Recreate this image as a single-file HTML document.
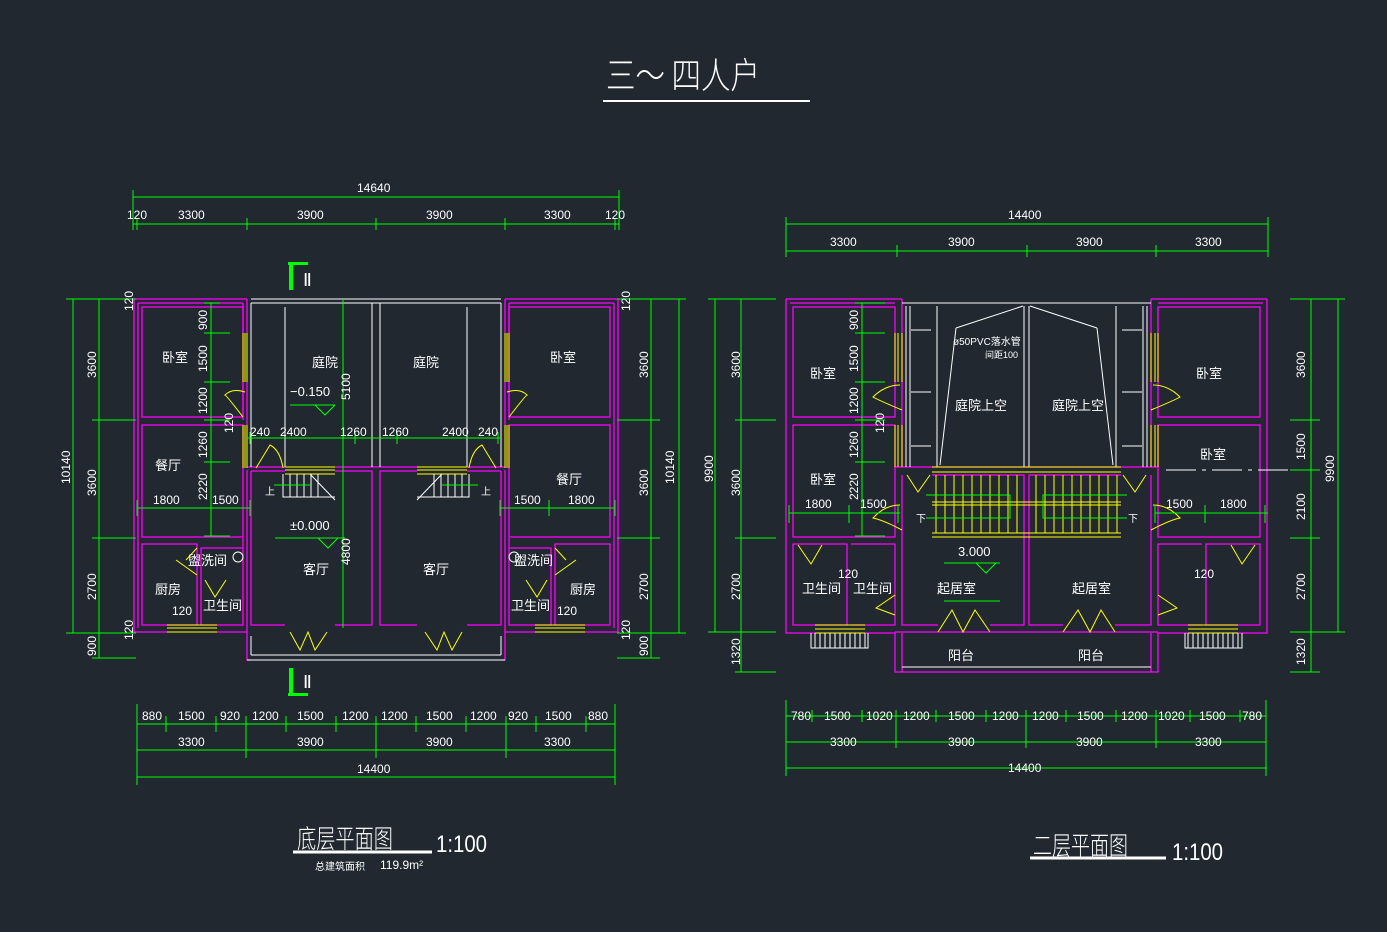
<!DOCTYPE html>
<html><head><meta charset="utf-8"><style>
html,body{margin:0;padding:0;background:#212830;}
svg{display:block}
text{font-family:"Liberation Sans","Noto Sans CJK SC",sans-serif;fill:#fff}
.g{stroke:#0f0;stroke-width:1;fill:none}
.m{stroke:#f0f;stroke-width:1.3;fill:none}
.w{stroke:#fff;stroke-width:1;fill:none}
.y{stroke:#ff0;stroke-width:1;fill:none}
.d{font-size:12px}
.c{font-size:13px}
</style></head><body>
<svg width="1387" height="932" viewBox="0 0 1387 932" xmlns="http://www.w3.org/2000/svg">
<rect width="1387" height="932" fill="#212830"/>
<!-- title -->
<text x="606" y="88" textLength="154" lengthAdjust="spacingAndGlyphs" style="font-size:36px;font-family:'Noto Sans CJK SC',sans-serif;font-weight:200" fill="#fff">三～ 四人户</text>
<line x1="603" y1="101" x2="810" y2="101" stroke="#fff" stroke-width="2"/>

<defs>
<g id="LH">
 <path class="m" d="M134,299 H247 M134,299 V632 H167 M217,632 H247 V660 H251 M138,303 H243 M138,303 V628 M243,303 V333 M243,382 V420 M247,299 V333 M247,382 V425"/>
 <rect class="m" x="142" y="307" width="101" height="110"/>
 <rect class="m" x="142" y="425" width="101" height="112"/>
 <path class="m" d="M142,544 H197 V625 H142 Z M201,548 V625 H243 V548 Z M243,538 V560 M243,578 V625 M247,470 V632 M251,471 V625 H285 M335,625 H372 V471 H335 M251,471 H285"/>
 <path class="m" d="M247,467 H285 M335,467 H376"/>
 <path class="w" d="M251,299 H376 M251,303 H376 M251,303 V467 M285,307 V467 M372,303 V467 M247,660 H376 M251,655 H376 M251,636 V655"/>
 <path class="y" d="M243,333 V382 M245,333 V382 M247,333 V382 M243,425 V468 M245,425 V468 M247,425 V468 M167,625 H217 M167,628 H217 M167,632 H217 M285,467 H335 M285,470 H335 M285,474 H335"/>
 <path class="y" d="M243,417 Q226,395 225,395 Q232,388 245,392 M256,468 L270,445 Q280,450 283,468 M186,560 L197,548 M176,560 Q190,570 197,575 M205,580 L215,597 L226,580 M290,632 L300,650 L308,632 L315,650 L327,632"/>
 <path class="w" d="M283,474 V497 H335 M290,474 V497 M297,474 V497 M304,474 V497 M311,474 V497 M318,474 V497 M310,474 L335,500"/>
 <line class="g" x1="274" y1="485" x2="310" y2="485"/>
 <circle cx="238" cy="557" r="5" class="w" stroke-width="2"/>
</g>
<g id="RH">
 <path class="m" d="M786,299 H902 M786,299 V633 H815 M865,633 H895 V672 H902 V633 M790,303 H895"/>
 <rect class="m" x="793" y="307" width="102" height="110"/>
 <rect class="m" x="793" y="425" width="102" height="112"/>
 <path class="m" d="M793,544 H847 V625 H793 Z M851,544 H895 V625 H851 M902,299 V467 M902,475 V625 H938 M990,625 H1024 V475 H932 M895,467 H1027 M895,632 H1027 M902,672 H1027"/>
 <path class="w" d="M906,306 V467 M910,306 V467 M937,306 V467 M1024,306 V467 M902,303 H1027 M956,328 L1023,306 M956,328 L940,465 M911,330 H931 M911,392 H931 M911,446 H931 M902,667 H1027"/>
 <path class="y" d="M895,333 V382 M898,333 V382 M902,333 V382 M895,425 V467 M898,425 V467 M902,425 V467 M815,625 H865 M815,629 H865 M815,633 H865 M932,467 H1027 M932,472 H1027 M932,537 H1027 M932,533 H1027"/>
 <path class="y" d="M936,475 V533 M945,475 V533 M954,475 V533 M963,475 V533 M972,475 V533 M981,475 V533 M990,475 V533 M999,475 V533 M1008,475 V533 M1017,475 V533 M932,502 H1027 M932,505 H1027"/>
 <path class="y" d="M902,410 Q878,400 873,397 Q885,385 900,385 M907,475 L918,492 L930,475 M902,530 Q883,520 873,518 Q885,505 900,505 M798,545 L811,564 L822,545 M895,595 L876,608 L895,615 M938,632 L952,610 L963,632 L975,610 L990,632"/>
 <path class="w" d="M811,633 V648 H868 V633 M815,633 V648 M820,633 V648 M825,633 V648 M830,633 V648 M835,633 V648 M840,633 V648 M845,633 V648 M850,633 V648 M855,633 V648 M860,633 V648 M865,633 V648"/>
 <path class="g" d="M926,495 H1010 V518 H926"/>
</g>
</defs>
<use href="#LH"/>
<use href="#LH" transform="translate(752,0) scale(-1,1)"/>
<use href="#RH"/>
<use href="#RH" transform="translate(2053,0) scale(-1,1)"/>
<path class="w" d="M1166,470 H1300" stroke-dasharray="30,6,4,6"/>

<g fill="#0f0"><rect x="289" y="262" width="4" height="28"/><rect x="288" y="262" width="20" height="3"/><rect x="289" y="668" width="4" height="28"/><rect x="288" y="693" width="20" height="3"/></g>
<text x="303" y="286" style="font-size:18px;font-family:'Liberation Serif',serif">Ⅱ</text>
<text x="303" y="688" style="font-size:18px;font-family:'Liberation Serif',serif">Ⅱ</text>

<g class="g">
 <path d="M133,197 H619 M133,190 V230 M619,190 V230 M133,224 H619 M137,218 V230 M247,218 V230 M376,218 V230 M505,218 V230 M615,218 V230"/>
 <path d="M137,724 H615 M137,750 H615 M137,777 H615 M137,704 V785 M615,704 V785 M166,716 V732 M216,716 V732 M246,716 V758 M286,716 V732 M336,716 V732 M376,716 V758 M416,716 V732 M466,716 V732 M506,716 V758 M536,716 V732 M586,716 V732"/>
 <path d="M73,299 V633 M66,299 H136 M66,633 H136 M99,299 V658 M92,420 H136 M92,538 H136 M92,658 H136 M211,303 V536 M204,303 H220 M204,333 H230 M204,382 H230 M204,420 H230 M204,462 H230 M204,536 H230 M137,508 H250 M137,500 V516 M211,500 V516 M250,500 V516"/>
 <path d="M679,299 V633 M617,299 H686 M617,633 H686 M651,299 V658 M617,420 H660 M617,538 H660 M617,658 H660 M500,508 H615 M500,500 V516 M549,500 V516 M615,500 V516 M247,438 H500 M355,432 V444 M397,432 V444 M250,432 V444 M498,432 V444"/>
 <path d="M343,299 V628 M290,405 H335 M275,538 H345"/>
</g>
<path d="M315,405 L325,415 L335,405" class="g"/>
<path d="M318,538 L328,548 L338,538" class="g"/>
<g class="d" fill="#fff">
 <text x="357" y="192">14640</text>
 <text x="127" y="219">120</text><text x="178" y="219">3300</text><text x="297" y="219">3900</text><text x="426" y="219">3900</text><text x="544" y="219">3300</text><text x="605" y="219">120</text>
 <text x="142" y="720">880</text><text x="178" y="720">1500</text><text x="220" y="720">920</text><text x="252" y="720">1200</text><text x="297" y="720">1500</text><text x="342" y="720">1200</text><text x="381" y="720">1200</text><text x="426" y="720">1500</text><text x="470" y="720">1200</text><text x="508" y="720">920</text><text x="545" y="720">1500</text><text x="588" y="720">880</text>
 <text x="178" y="746">3300</text><text x="297" y="746">3900</text><text x="426" y="746">3900</text><text x="544" y="746">3300</text>
 <text x="357" y="773">14400</text>
 <text x="153" y="504">1800</text><text x="212" y="504">1500</text><text x="514" y="504">1500</text><text x="568" y="504">1800</text>
 <text x="250" y="436">240</text><text x="280" y="436">2400</text><text x="340" y="436">1260</text><text x="382" y="436">1260</text><text x="442" y="436">2400</text><text x="478" y="436">240</text>
 <text x="172" y="615">120</text><text x="557" y="615">120</text>
 <text x="290" y="396" fill="#0f0" style="font-size:13px">−0.150</text>
 <text x="290" y="530" fill="#0f0" style="font-size:13px">±0.000</text>
</g>
<g class="d" fill="#fff">
 <text transform="translate(96,378) rotate(-90)">3600</text>
 <text transform="translate(96,496) rotate(-90)">3600</text>
 <text transform="translate(96,600) rotate(-90)">2700</text>
 <text transform="translate(96,656) rotate(-90)">900</text>
 <text transform="translate(70,484) rotate(-90)">10140</text>
 <text transform="translate(133,311) rotate(-90)">120</text>
 <text transform="translate(133,640) rotate(-90)">120</text>
 <text transform="translate(207,330) rotate(-90)">900</text>
 <text transform="translate(207,372) rotate(-90)">1500</text>
 <text transform="translate(207,414) rotate(-90)">1200</text>
 <text transform="translate(207,458) rotate(-90)">1260</text>
 <text transform="translate(207,500) rotate(-90)">2220</text>
 <text transform="translate(233,433) rotate(-90)">120</text>
 <text transform="translate(350,400) rotate(-90)">5100</text>
 <text transform="translate(350,565) rotate(-90)">4800</text>
 <text transform="translate(648,378) rotate(-90)">3600</text>
 <text transform="translate(648,496) rotate(-90)">3600</text>
 <text transform="translate(648,600) rotate(-90)">2700</text>
 <text transform="translate(648,656) rotate(-90)">900</text>
 <text transform="translate(674,484) rotate(-90)">10140</text>
 <text transform="translate(630,311) rotate(-90)">120</text>
 <text transform="translate(630,640) rotate(-90)">120</text>
</g>
<g class="c">
 <text x="162" y="362">卧室</text><text x="550" y="362">卧室</text>
 <text x="312" y="367">庭院</text><text x="413" y="367">庭院</text>
 <text x="155" y="470">餐厅</text><text x="556" y="484">餐厅</text>
 <text x="188" y="565">盥洗间</text><text x="514" y="565">盥洗间</text>
 <text x="155" y="594">厨房</text><text x="570" y="594">厨房</text>
 <text x="203" y="610">卫生间</text><text x="511" y="610">卫生间</text>
 <text x="303" y="574">客厅</text><text x="423" y="574">客厅</text>
 <text x="265" y="495" style="font-size:10px">上</text><text x="481" y="495" style="font-size:10px">上</text>
</g>

<g class="g">
 <path d="M786,224 H1268 M786,217 V257 M1268,217 V257 M786,251 H1268 M897,245 V257 M1027,245 V257 M1156,245 V257"/>
 <path d="M786,716 H1266 M786,742 H1266 M786,768 H1266 M786,700 V776 M1266,700 V776 M812,710 V722 M862,710 V722 M896,710 V748 M936,710 V722 M986,710 V722 M1026,710 V748 M1066,710 V722 M1116,710 V722 M1156,710 V748 M1190,710 V722 M1240,710 V722"/>
 <path d="M715,299 V632 M708,299 H776 M708,632 H776 M741,299 V672 M735,420 H776 M735,538 H776 M735,672 H776 M862,303 V536 M855,303 H885 M855,333 H885 M855,382 H885 M855,420 H885 M855,462 H885 M855,536 H885 M789,513 H900 M789,505 V523 M849,505 V523 M898,505 V523"/>
 <path d="M1338,299 V632 M1290,299 H1345 M1290,632 H1345 M1311,299 V672 M1290,420 H1320 M1290,470 H1320 M1290,538 H1320 M1290,672 H1320 M1155,513 H1268 M1155,505 V523 M1205,505 V523 M1265,505 V523"/>
 <path d="M944,563 H1000 M1000,601 H944"/>
</g>
<path d="M976,563 L986,573 L996,563" class="g"/>
<g class="d" fill="#fff">
 <text x="1008" y="219">14400</text>
 <text x="830" y="246">3300</text><text x="948" y="246">3900</text><text x="1076" y="246">3900</text><text x="1195" y="246">3300</text>
 <text x="791" y="720">780</text><text x="824" y="720">1500</text><text x="866" y="720">1020</text><text x="903" y="720">1200</text><text x="948" y="720">1500</text><text x="992" y="720">1200</text><text x="1032" y="720">1200</text><text x="1077" y="720">1500</text><text x="1121" y="720">1200</text><text x="1158" y="720">1020</text><text x="1199" y="720">1500</text><text x="1242" y="720">780</text>
 <text x="830" y="746">3300</text><text x="948" y="746">3900</text><text x="1076" y="746">3900</text><text x="1195" y="746">3300</text>
 <text x="1008" y="772">14400</text>
 <text x="805" y="508">1800</text><text x="860" y="508">1500</text><text x="1166" y="508">1500</text><text x="1220" y="508">1800</text>
 <text x="838" y="578">120</text><text x="1194" y="578">120</text>
 <text x="958" y="556" fill="#0f0" style="font-size:13px">3.000</text>
 <text x="953" y="345" style="font-size:10px">ø50PVC落水管</text>
 <text x="985" y="358" style="font-size:9px">间距100</text>
</g>
<g class="d" fill="#fff">
 <text transform="translate(740,378) rotate(-90)">3600</text>
 <text transform="translate(740,496) rotate(-90)">3600</text>
 <text transform="translate(740,600) rotate(-90)">2700</text>
 <text transform="translate(740,665) rotate(-90)">1320</text>
 <text transform="translate(713,482) rotate(-90)">9900</text>
 <text transform="translate(858,330) rotate(-90)">900</text>
 <text transform="translate(858,372) rotate(-90)">1500</text>
 <text transform="translate(858,414) rotate(-90)">1200</text>
 <text transform="translate(858,458) rotate(-90)">1260</text>
 <text transform="translate(858,500) rotate(-90)">2220</text>
 <text transform="translate(884,433) rotate(-90)">120</text>
 <text transform="translate(1305,378) rotate(-90)">3600</text>
 <text transform="translate(1305,460) rotate(-90)">1500</text>
 <text transform="translate(1305,520) rotate(-90)">2100</text>
 <text transform="translate(1305,600) rotate(-90)">2700</text>
 <text transform="translate(1305,665) rotate(-90)">1320</text>
 <text transform="translate(1334,482) rotate(-90)">9900</text>
</g>
<g class="c">
 <text x="810" y="378">卧室</text><text x="1196" y="378">卧室</text>
 <text x="810" y="484">卧室</text><text x="1200" y="459">卧室</text>
 <text x="955" y="410">庭院上空</text><text x="1052" y="410">庭院上空</text>
 <text x="802" y="593">卫生间</text><text x="853" y="593">卫生间</text>
 <text x="937" y="593">起居室</text><text x="1072" y="593">起居室</text>
 <text x="948" y="660">阳台</text><text x="1078" y="660">阳台</text>
 <text x="916" y="522" style="font-size:10px">下</text><text x="1128" y="522" style="font-size:10px">下</text>
</g>

<text x="297" y="848" textLength="96" lengthAdjust="spacingAndGlyphs" style="font-size:26px;font-family:'Noto Sans CJK SC',sans-serif;font-weight:200">底层平面图</text>
<line x1="293" y1="852" x2="432" y2="852" stroke="#fff" stroke-width="3"/>
<text x="436" y="852" textLength="51" lengthAdjust="spacingAndGlyphs" style="font-size:24px;font-family:'Liberation Sans',sans-serif">1:100</text>
<text x="315" y="870" style="font-size:10px">总建筑面积</text>
<text x="380" y="869" style="font-size:12px">119.9m²</text>
<text x="1033" y="855" textLength="95" lengthAdjust="spacingAndGlyphs" style="font-size:26px;font-family:'Noto Sans CJK SC',sans-serif;font-weight:200">二层平面图</text>
<line x1="1030" y1="858" x2="1166" y2="858" stroke="#fff" stroke-width="3"/>
<text x="1172" y="860" textLength="51" lengthAdjust="spacingAndGlyphs" style="font-size:24px;font-family:'Liberation Sans',sans-serif">1:100</text>
</svg>
</body></html>
